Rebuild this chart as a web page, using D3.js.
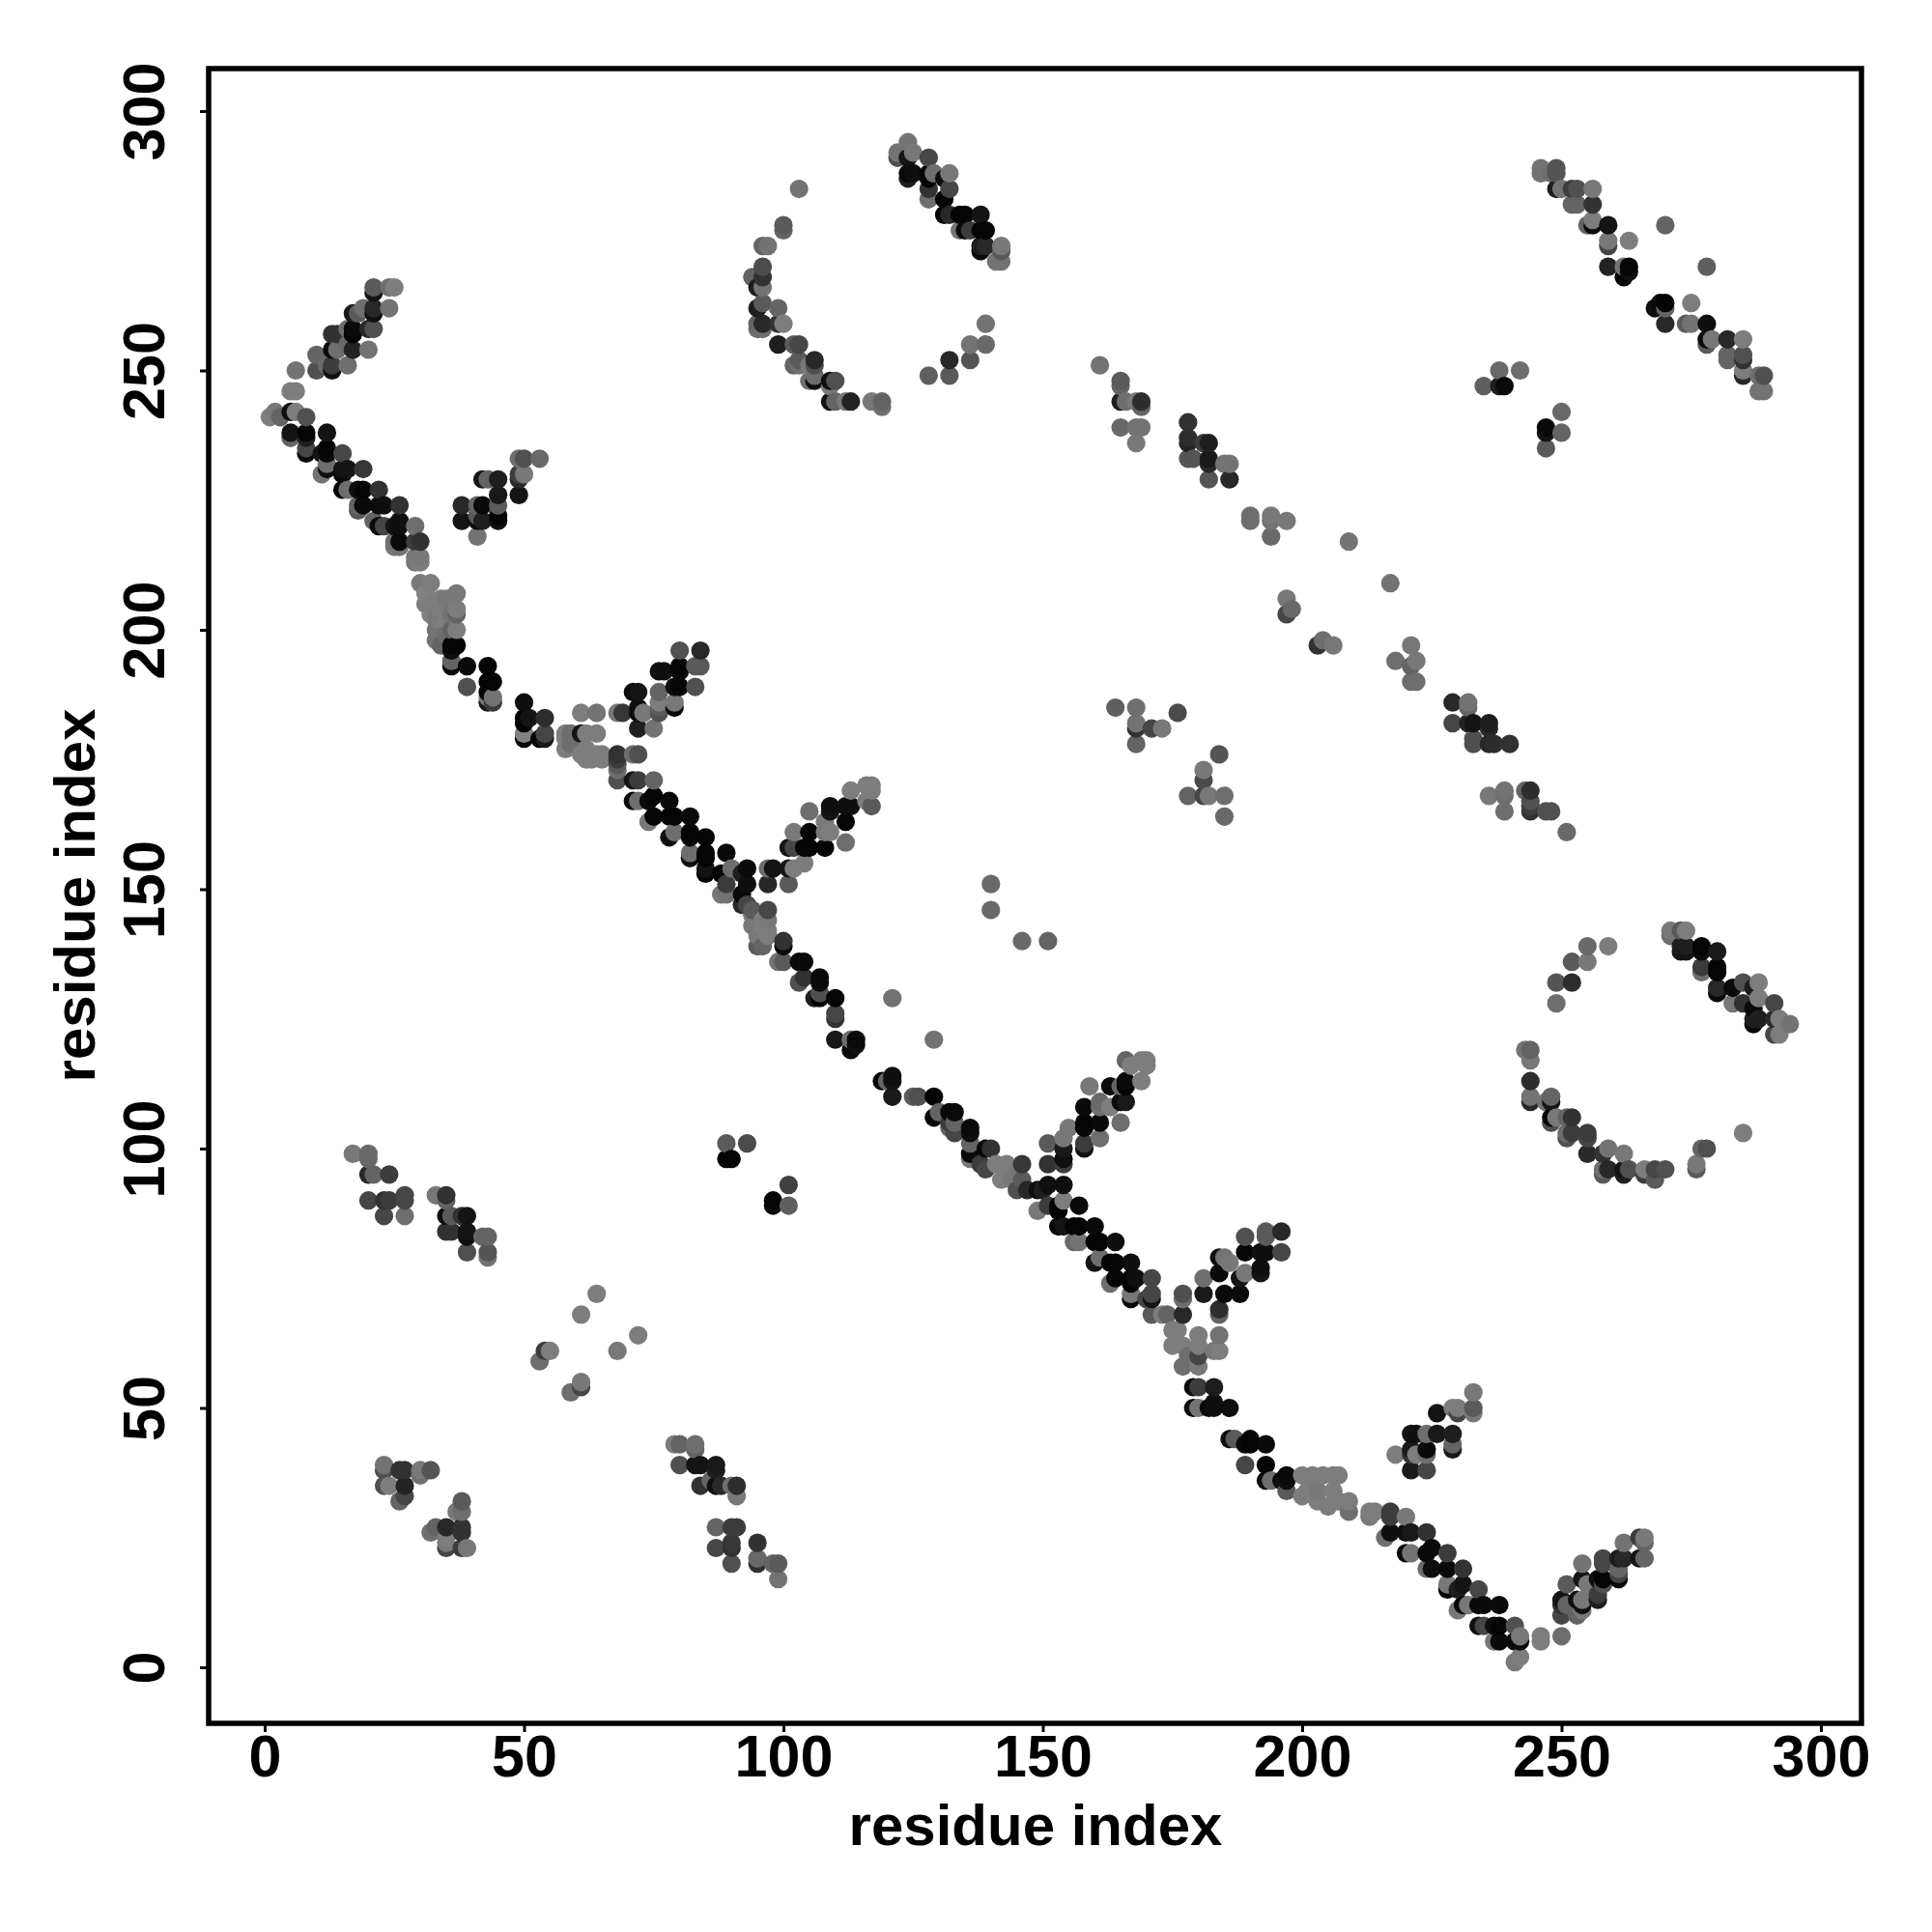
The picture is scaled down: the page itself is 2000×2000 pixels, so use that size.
<!DOCTYPE html>
<html><head><meta charset="utf-8">
<style>html,body{margin:0;padding:0;background:#fff}svg{display:block}</style>
<script src="https://cdn.jsdelivr.net/npm/d3@7/dist/d3.min.js"></script>
</head><body><svg id="c" width="2000" height="2000"></svg>
<script>
const tickValues=[0,50,100,150,200,250,300];
const axisTitle="residue index";
// each contact: [residue x, residue y, grey level]
const armA=[[21,266,90],[25,266,125],[24,266,110],[21,265,20],[24,262,115],[21,262,40],[21,261,15],[17,261,25],[18,261,90],[19,262,110],[21,258,80],[20,258,40],[17,258,10],[17,257,5],[13,257,50],[14,257,50],[16,258,110],[17,254,35],[20,254,115],[13,254,10],[14,254,110],[16,255,105],[10,253,100],[16,251,110],[13,251,60],[10,250,80],[13,250,15],[12,251,105],[6,250,115],[6,246,125],[5,246,125]];
const diagA=[[1,241,125],[2,242,120],[6,242,125],[5,242,15],[8,241,80],[3,241,100],[5,238,20],[5,237,100],[8,238,5],[8,237,30],[8,235,70],[8,234,10],[12,238,20],[12,235,5],[12,234,10],[15,234,70],[11,234,20],[12,232,110],[11,230,115],[12,231,15],[19,231,55],[16,231,20],[15,231,20],[15,230,10],[15,227,5],[16,227,110],[18,227,15],[19,227,5],[22,227,50],[19,224,10],[18,224,100],[18,223,90],[22,224,10],[23,224,15],[26,224,50],[22,220,10],[23,220,70],[21,221,100],[26,221,15],[25,220,20],[26,220,15],[29,220,110],[26,217,10],[25,217,110],[25,216,120],[26,216,115],[29,217,60],[30,217,50],[29,214,120],[30,214,120],[29,213,120],[30,213,125]];
const armB=[[38,224,40],[38,221,20],[41,218,115],[41,224,100],[42,224,10],[42,221,30],[41,222,90],[41,221,10],[45,221,15],[45,224,90],[45,222,5],[45,226,25],[45,229,30],[42,229,20],[43,229,100],[49,226,20],[49,229,40],[50,230,120],[49,230,60],[49,233,110],[50,233,80],[53,233,105]];
const diagB=[[30,209,120],[32,209,125],[31,207,130],[34,206,125],[37,207,120],[31,205,125],[32,205,125],[33,205,125],[35,206,120],[34,204,125],[35,202,125],[33,202,120],[37,204,125],[34,203,120],[32,203,130],[36,203,115],[34,202,125],[37,203,100],[37,200,125],[33,200,115],[36,200,100],[35,199,110],[33,198,115],[34,197,100],[36,197,5],[37,197,5],[36,196,15],[36,194,100],[36,193,10],[39,193,10],[43,193,5],[43,190,5],[44,190,5],[39,189,80],[43,188,5],[43,187,120],[44,187,115],[43,186,25],[44,186,60],[50,186,15],[50,183,5],[51,183,20],[50,182,5],[54,183,45],[50,180,130],[50,179,5],[53,179,5],[54,180,70],[54,179,25],[58,180,125],[58,179,125],[58,177,125],[59,180,110],[59,178,110],[61,184,125],[64,184,115],[61,180,20],[62,180,125],[64,180,125],[62,177,125],[62,175,125],[64,176,125],[65,176,125],[61,176,125],[63,175,125],[65,175,125]];
const armC=[[68,184,120],[69,184,55],[72,184,10],[72,188,20],[71,188,10],[72,181,30],[75,181,115],[73,184,120],[72,185,15],[76,184,80],[76,186,125],[76,188,100],[76,192,15],[77,192,15],[80,196,80],[84,196,40],[80,193,5],[80,192,10],[84,193,90],[83,193,90],[83,189,80],[79,189,15],[80,189,5],[79,186,120],[79,185,10],[76,185,90]];
const diagC=[[68,176,50],[71,176,110],[72,176,80],[68,175,60],[68,174,90],[68,173,110],[68,171,80],[71,171,20],[72,171,60],[75,171,100],[71,167,10],[72,167,110],[74,167,10],[75,168,5],[78,167,10],[74,163,120],[75,164,5],[78,164,5],[79,164,5],[82,164,10],[78,160,15],[79,161,110],[82,161,5],[82,160,5],[85,160,5],[82,157,110],[82,156,15],[85,157,5],[85,156,5],[89,157,10],[85,154,20],[85,153,5],[88,153,5],[90,154,110],[89,151,60],[88,149,120],[89,149,115],[93,154,10],[92,153,30],[93,151,15],[92,149,10],[92,147,40],[93,147,70],[94,146,90],[97,146,70],[94,145,120],[96,144,125],[95,141,120],[95,139,90],[94,143,120],[97,144,120],[97,142,125],[96,143,125],[96,139,100],[97,141,125],[100,140,50],[100,139,10],[99,136,115],[100,136,90],[103,136,10],[104,136,10],[103,132,80],[104,133,50],[107,133,10],[107,132,10],[106,129,30],[107,130,80],[107,129,5],[110,129,5],[110,126,70],[110,125,50],[110,121,25],[113,121,110],[114,121,10],[113,119,10],[114,120,15],[121,129,115],[129,121,115],[119,113,5],[120,113,100],[121,114,15],[121,113,20],[121,110,25],[125,110,90],[126,110,80],[129,110,5],[129,106,10],[130,107,100],[132,107,10],[133,107,10],[132,105,60],[133,105,100],[132,104,100],[133,103,70]];
const armD=[[97,151,40],[101,151,90],[97,154,110],[98,154,20],[101,154,20],[102,154,125],[104,155,125],[101,158,20],[102,158,70],[102,161,120],[104,158,5],[105,158,5],[105,161,5],[108,158,5],[108,161,120],[109,161,125],[112,159,110],[105,165,110],[108,163,120],[109,166,15],[109,165,20],[112,163,5],[112,166,15],[113,166,15],[113,169,125],[116,167,125],[117,166,90],[116,170,125],[117,170,125],[117,169,125]];
const armE=[[166,117,100],[167,116,125],[169,117,125],[170,117,125],[170,116,125],[169,113,125],[159,112,120],[163,112,10],[166,113,10],[166,112,5],[165,112,100],[165,109,10],[166,109,25],[158,108,10],[161,108,110],[163,108,125],[161,109,105],[158,105,5],[161,105,10],[165,105,110],[158,104,5],[161,102,110],[158,101,60],[158,100,15],[155,104,120],[154,102,120],[151,101,90],[154,100,25],[154,98,15],[154,97,60],[151,97,50]];
const diagD=[[136,104,10],[136,103,15],[136,101,100],[136,99,10],[136,98,120],[140,100,50],[139,100,10],[139,96,70],[138,97,60],[141,97,125],[143,97,125],[142,94,125],[144,94,120],[146,97,55],[146,94,90],[145,92,80],[147,92,40],[145,95,120],[154,93,15],[151,93,15],[149,92,15],[150,92,30],[154,90,125],[157,89,10],[153,89,5],[149,88,120],[151,89,60],[153,88,5],[153,85,5],[154,85,20],[156,85,5],[157,85,5],[160,85,10],[156,82,105],[157,82,115],[160,82,5],[161,82,5],[164,82,15],[160,78,20],[161,79,110],[163,78,5],[164,78,5],[167,78,15],[163,74,110],[164,75,5],[167,75,5],[168,75,15],[171,75,70],[167,74,5],[167,72,120],[167,71,10],[171,72,70],[171,71,20],[170,71,70],[171,68,90],[173,68,125],[174,68,100],[177,68,40],[177,72,80],[177,71,110],[175,65,125],[176,65,125],[175,62,125],[177,62,125],[180,64,125],[180,62,125],[180,60,70],[184,64,115],[183,61,120],[184,61,125],[177,58,110],[180,58,120],[178,60,110]];
const armF=[[181,75,110],[181,72,25],[184,69,45],[184,68,100],[185,72,10],[188,72,10],[188,75,20],[184,76,10],[184,79,15],[185,79,115],[186,78,120],[189,83,80],[189,80,5],[193,84,90],[193,83,90],[196,84,40],[196,80,70],[192,80,15],[193,80,15],[192,77,15],[192,76,20],[189,76,120]];
const diagE=[[180,54,60],[179,54,10],[183,54,30],[179,50,10],[180,50,115],[182,50,10],[183,50,15],[183,51,15],[186,50,15],[186,44,15],[187,44,90],[189,43,10],[190,44,5],[190,43,5],[193,43,10],[189,39,70],[193,39,5],[193,36,10],[194,36,110],[196,36,15],[197,37,10],[197,36,15],[197,34,90],[200,37,125],[200,33,125],[202,37,125],[204,37,125],[206,37,125],[207,37,125],[201,34,125],[203,34,120],[206,34,125],[205,31,125],[203,32,125],[209,32,125],[209,30,110],[207,32,125],[213,30,125],[214,30,125],[213,29,120],[217,30,60],[217,29,60],[220,29,120],[216,25,110],[217,26,15],[220,26,15],[221,26,25],[224,26,50],[220,22,10],[221,22,115],[224,22,10],[225,23,10],[228,22,60],[224,19,110],[225,19,15],[228,19,10],[228,16,120],[228,15,5],[231,19,50],[231,16,20],[230,15,30],[234,15,70],[230,11,120],[231,12,10],[232,12,120],[234,12,10],[235,12,10],[238,12,10],[234,8,15],[235,8,70],[237,8,15],[238,8,5],[241,8,80],[237,5,120],[238,5,10],[241,5,10],[242,6,120],[242,5,10],[241,1,120],[242,2,125],[246,6,125],[246,5,125],[250,6,110]];
const armG=[[226,49,20],[229,50,125],[230,49,70],[230,50,125],[233,53,120],[233,50,90],[233,49,120],[221,45,20],[222,45,15],[224,45,110],[226,45,25],[229,45,30],[229,43,100],[229,42,25],[218,41,125],[221,42,25],[221,41,50],[222,41,125],[224,42,10],[224,41,110],[221,38,25],[224,38,70]];
const armH=[[250,10,70],[250,13,20],[250,12,50],[251,12,100],[253,10,100],[254,11,120],[253,13,15],[254,13,120],[254,12,15],[251,16,90],[254,20,115],[254,17,20],[255,16,120],[257,13,30],[257,14,60],[257,17,15],[258,17,5],[258,16,80],[258,21,70],[258,20,70],[261,21,30],[261,17,10],[261,18,70],[261,19,100],[262,21,40],[262,24,115],[265,21,20],[266,21,100],[265,25,60],[266,25,120],[266,24,100]];
const ringA=[[103,285,115],[100,278,90],[100,277,100],[96,274,100],[97,274,115],[96,270,75],[94,268,100],[96,268,50],[95,266,30],[96,266,115],[95,262,30],[96,263,90],[99,262,100],[95,259,100],[96,259,40],[95,258,110],[96,258,110],[99,259,50],[100,259,125],[99,255,30],[102,255,90],[103,255,70],[102,251,100],[103,252,90],[103,251,110],[105,251,120],[106,252,40],[106,251,80],[105,248,110],[106,248,15],[106,249,110],[109,248,15],[110,248,80],[109,247,120],[109,244,20],[110,244,100],[112,244,120],[113,244,35],[117,244,120],[119,244,100],[119,243,110],[139,259,115],[136,255,115],[139,255,105],[136,252,85],[132,252,40],[132,249,90],[128,249,95]];
const strandA=[[124,294,115],[122,292,115],[122,291,80],[124,291,20],[125,292,120],[128,291,70],[124,288,10],[124,287,30],[125,288,15],[128,288,5],[129,288,110],[132,288,120],[131,287,15],[128,287,5],[128,285,50],[128,283,110],[132,285,70],[131,283,5],[131,280,5],[132,280,40],[134,280,5],[135,280,5],[138,280,20],[134,277,115],[135,277,10],[136,277,60],[138,277,5],[139,277,5],[138,273,10],[139,274,40],[138,274,30],[142,274,120],[142,273,90],[141,271,115],[142,271,115]];
const strandB=[[246,289,115],[246,288,115],[249,289,85],[249,288,85],[248,288,110],[249,285,30],[250,285,115],[252,285,60],[253,285,80],[256,285,120],[252,282,100],[253,282,100],[256,282,50],[255,278,100],[256,278,10],[256,279,125],[259,278,20],[259,275,120],[259,274,70],[263,275,125],[270,278,100],[259,270,35],[262,270,115],[263,270,5],[262,268,5],[263,269,15],[278,270,95],[268,262,15],[269,263,10],[270,263,5],[270,262,100],[270,259,40],[275,263,125],[274,259,90],[275,259,115],[278,259,15],[278,256,10],[278,255,90],[279,256,120],[282,256,40],[285,256,125],[282,253,100],[282,252,100],[285,253,80],[285,252,50],[285,249,40],[285,250,125],[288,249,110],[289,249,80],[288,246,115],[289,246,115]];
const ringB=[[271,142,120],[271,141,110],[273,142,90],[274,142,125],[273,139,30],[273,138,20],[274,139,30],[274,138,20],[277,139,5],[277,138,10],[280,138,25],[277,135,60],[277,134,110],[280,135,5],[280,134,5],[280,131,40],[280,130,10],[283,131,10],[285,132,80],[288,132,125],[288,129,125],[287,131,30],[283,128,120],[285,128,50],[287,127,10],[291,128,70],[287,125,30],[287,124,10],[288,125,30],[291,125,40],[292,125,125],[294,124,115],[291,122,70],[292,122,125],[255,139,105],[259,139,125],[252,136,90],[255,136,120],[249,132,85],[252,132,45],[249,128,110],[243,119,115],[244,119,100],[244,117,120],[244,113,45],[244,110,115],[244,109,40],[248,110,100],[248,109,20],[247,109,115],[248,106,5],[248,105,80],[249,106,120],[251,106,100],[252,106,50],[251,103,110],[251,102,80],[252,103,60],[255,103,60],[255,102,70],[255,99,40],[258,99,50],[259,100,115],[262,99,120],[258,96,110],[258,95,90],[259,96,40],[262,96,20],[263,96,80],[262,95,30],[266,96,125],[266,95,60],[268,96,70],[268,94,90],[270,96,80],[276,97,120],[276,96,90],[277,100,100],[278,100,80],[285,103,125]];
const patchA=[[161,251,115],[165,248,90],[165,247,100],[165,244,30],[166,244,110],[168,244,120],[169,244,45],[169,243,100],[165,239,105],[168,239,115],[169,239,115],[168,236,120],[178,240,50],[178,237,45],[178,236,35],[181,236,60],[182,236,30],[182,233,25],[178,233,85],[179,233,85],[182,232,40],[182,229,85],[185,232,115],[186,232,115],[186,229,40],[190,222,110],[190,221,110],[194,222,120],[194,221,115],[197,221,120],[194,218,105],[209,217,115],[217,209,115],[197,206,120],[197,203,70],[198,204,105],[203,197,50],[204,198,110],[206,197,120],[221,197,120],[218,194,110],[222,194,120],[221,193,100],[221,190,110],[222,190,110],[229,186,40],[232,186,115],[232,185,100],[229,182,70],[232,182,35],[233,182,20],[236,182,30],[236,181,40],[233,179,80],[233,178,80],[236,178,40],[237,178,45],[240,178,50],[236,168,120],[239,169,115],[239,168,110],[243,169,100],[244,169,45],[244,167,80],[244,166,60],[244,165,50],[239,165,110],[247,165,80],[248,165,80],[251,161,105]];
const patchB=[[238,250,105],[242,250,110],[235,247,95],[238,247,30],[239,247,10],[250,242,105],[247,239,10],[247,238,20],[250,238,100],[247,235,90],[164,185,95],[168,185,110],[168,182,115],[168,181,50],[171,181,70],[173,181,120],[176,184,75],[168,178,100],[181,173,120],[181,171,75],[184,176,85],[178,168,100],[181,168,70],[182,168,120],[185,168,110],[185,164,105]];
const patchC=[[17,99,120],[20,99,105],[20,98,105],[20,95,40],[21,95,100],[24,95,60],[20,90,70],[23,90,50],[24,90,60],[27,91,70],[27,90,70],[23,87,70],[27,87,110],[33,91,120],[35,91,50],[35,90,100],[35,87,15],[36,87,90],[35,84,50],[36,84,50],[38,87,50],[39,87,20],[39,84,20],[39,83,15],[42,83,100],[43,83,100],[39,80,80],[43,80,85],[43,79,115],[89,101,90],[93,101,75],[89,98,5],[90,98,5],[101,93,65],[98,90,5],[98,89,10],[101,89,95]];
const patchD=[[64,72,125],[61,68,125],[72,64,125],[68,61,120],[54,61,60],[55,61,125],[53,59,110],[61,55,120],[61,54,70],[59,53,110],[23,39,115],[23,38,80],[26,38,50],[27,38,50],[30,38,120],[30,37,110],[32,38,85],[23,35,80],[24,35,125],[27,35,35],[27,33,70],[26,32,100],[38,32,90],[37,30,120],[38,30,110],[32,26,110],[33,27,100],[35,27,40],[35,25,125],[38,27,50],[38,26,50],[35,24,120],[35,23,70],[38,23,60],[39,23,120],[79,43,125],[80,43,100],[83,43,110],[83,42,100],[80,39,80],[83,39,20],[84,39,20],[87,39,25],[84,35,50],[87,38,30],[87,35,15],[88,35,40],[86,36,100],[90,35,110],[91,35,45],[91,33,120],[87,27,100],[90,27,60],[91,27,60],[87,23,70],[90,24,55],[90,23,50],[90,20,80],[95,24,50],[95,21,105],[95,20,50],[98,20,100],[99,20,90],[99,17,115],[140,151,105],[140,146,105],[146,140,105],[151,140,100]];
const contacts=[].concat(armA,diagA,armB,diagB,armC,diagC,armD,armE,diagD,armF,diagE,armG,armH,ringA,strandA,strandB,ringB,patchA,patchB,patchC,patchD);

const x=d3.scaleLinear().domain([0,300]).range([274,1885]);
const y=d3.scaleLinear().domain([0,300]).range([1726,115]);
const svg=d3.select("#c");
const font="'Liberation Sans',Arial,sans-serif";
const ordered=contacts.slice().sort((a,b)=>d3.ascending(a[0],b[0])||d3.ascending(a[1],b[1]));
svg.append("g").selectAll("circle").data(ordered).join("circle")
 .attr("cx",d=>x(d[0])).attr("cy",d=>y(d[1])).attr("r",9.6)
 .attr("fill",d=>d3.rgb(d[2],d[2],d[2]).formatHex());
svg.append("rect").attr("x",216).attr("y",71).attr("width",1711).attr("height",1713)
 .attr("fill","none").attr("stroke","#000").attr("stroke-width",5.5);
const gx=svg.append("g").attr("transform","translate(0,1784)")
 .call(d3.axisBottom(x).tickValues(tickValues).tickSize(9).tickPadding(0).tickFormat(d3.format("d")));
gx.select(".domain").remove();
gx.selectAll("line").attr("stroke","#000").attr("stroke-width",3);
gx.selectAll("text").attr("y",55).attr("dy",0).attr("fill","#000").attr("font-family",font).attr("font-size",61).attr("font-weight","bold");
const gy=svg.append("g").attr("transform","translate(216,0)")
 .call(d3.axisLeft(y).tickValues(tickValues).tickSize(9).tickFormat(d3.format("d")));
gy.select(".domain").remove();
gy.selectAll("line").attr("stroke","#000").attr("stroke-width",3);
gy.selectAll("text").attr("x",0).attr("y",0).attr("dy",0)
 .attr("transform","translate(-46,0) rotate(-90)").attr("text-anchor","middle")
 .attr("fill","#000").attr("font-family",font).attr("font-size",61).attr("font-weight","bold");
svg.append("text").attr("x",1072).attr("y",1910).attr("text-anchor","middle").attr("font-family",font)
 .attr("font-size",60).attr("font-weight","bold").text(axisTitle);
svg.append("text").attr("transform","translate(98,927) rotate(-90)").attr("text-anchor","middle").attr("font-family",font)
 .attr("font-size",60).attr("font-weight","bold").text(axisTitle);
</script></body></html>
